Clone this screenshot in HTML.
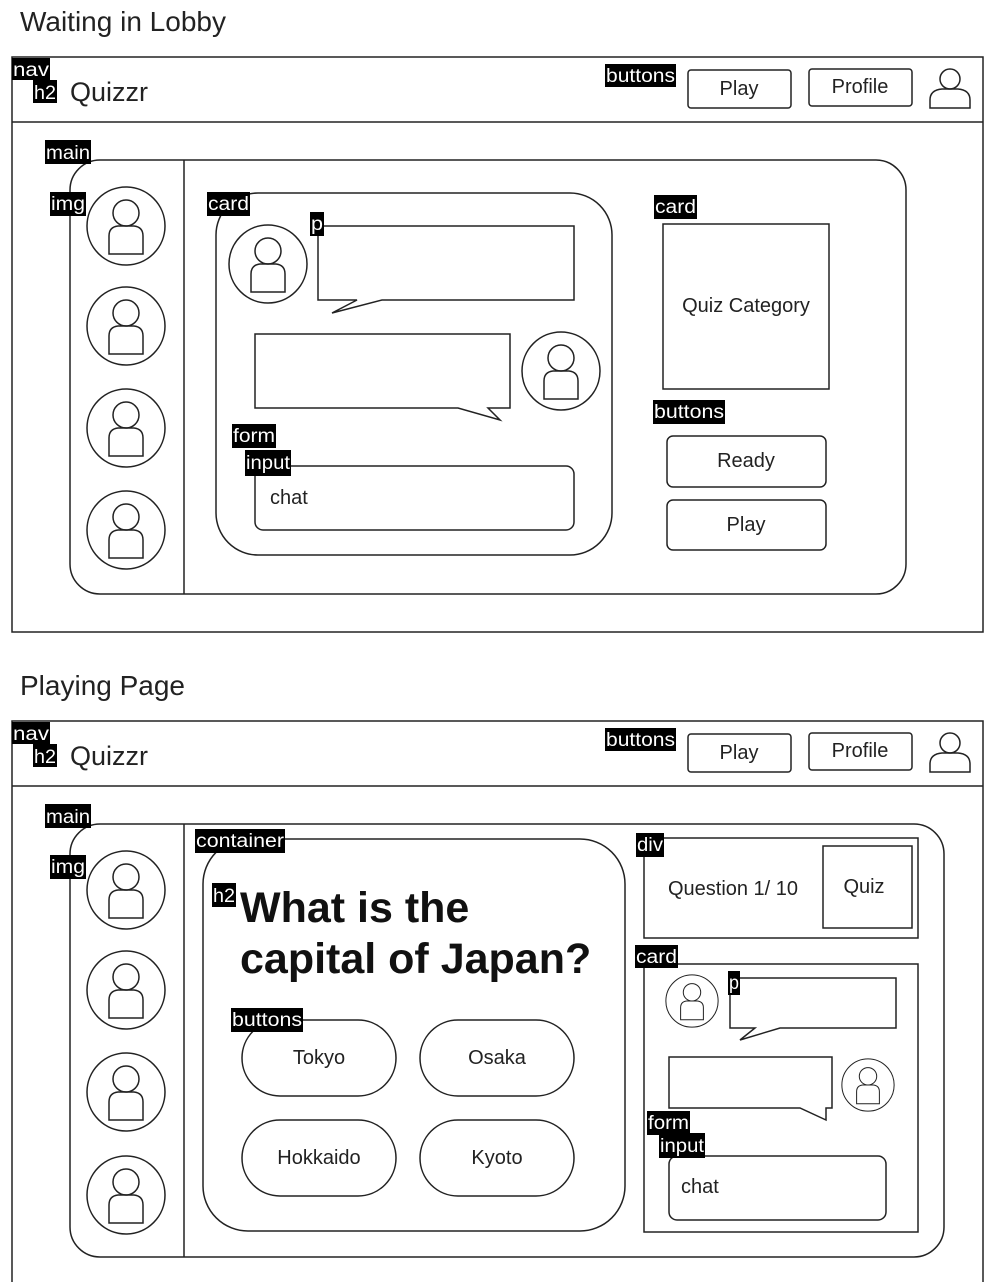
<!DOCTYPE html>
<html><head><meta charset="utf-8"><style>
html,body{margin:0;padding:0;background:#fff;}
svg{display:block;}
text{font-family:"Liberation Sans",sans-serif;}
.lb{font-size:19px;fill:#fff;}
</style></head><body>
<svg width="998" height="1282" viewBox="0 0 998 1282" xmlns="http://www.w3.org/2000/svg">
<defs>
<g id="av">
<circle cx="0" cy="0" r="39" fill="#fff" stroke="#222" stroke-width="1.5"/>
<circle cx="0" cy="-13" r="13" fill="none" stroke="#222" stroke-width="1.5"/>
<path d="M-17 28 L-17 10 Q-17 1 -8 0 L8 0 Q17 1 17 10 L17 28 Z" fill="none" stroke="#222" stroke-width="1.5"/>
</g>
<g id="usr">
<circle cx="0" cy="-9" r="10" fill="none" stroke="#222" stroke-width="1.5"/>
<path d="M-20 20 L-20 12 Q-20 2 -8 1 L8 1 Q20 2 20 12 L20 20 Z" fill="none" stroke="#222" stroke-width="1.5"/>
</g>
</defs>
<g fill="none" stroke="#222" stroke-width="1.5">
<rect x="12" y="57" width="971" height="575"/>
<line x1="12" y1="122" x2="983" y2="122"/>
<rect x="688" y="70" width="103" height="38" rx="3"/>
<rect x="809" y="69" width="103" height="37" rx="3"/>
<rect x="70" y="160" width="836" height="434" rx="30"/>
<line x1="184" y1="160" x2="184" y2="594"/>
<rect x="216" y="193" width="396" height="362" rx="42"/>
<path d="M318,226 H574 V300 H382 L332,313 L357,300 H318 Z"/>
<path d="M255,334 H510 V408 H488 L500,420 L458,408 H255 Z"/>
<rect x="255" y="466" width="319" height="64" rx="8"/>
<rect x="663" y="224" width="166" height="165"/>
<rect x="667" y="436" width="159" height="51" rx="6"/>
<rect x="667" y="500" width="159" height="50" rx="6"/>
<rect x="12" y="721" width="971" height="575"/>
<line x1="12" y1="786" x2="983" y2="786"/>
<rect x="688" y="734" width="103" height="38" rx="3"/>
<rect x="809" y="733" width="103" height="37" rx="3"/>
<rect x="70" y="824" width="874" height="433" rx="30"/>
<line x1="184" y1="824" x2="184" y2="1257"/>
<rect x="203" y="839" width="422" height="392" rx="45"/>
<rect x="242" y="1020" width="154" height="76" rx="38"/>
<rect x="420" y="1020" width="154" height="76" rx="38"/>
<rect x="242" y="1120" width="154" height="76" rx="38"/>
<rect x="420" y="1120" width="154" height="76" rx="38"/>
<rect x="644" y="838" width="274" height="100"/>
<rect x="823" y="846" width="89" height="82"/>
<rect x="644" y="964" width="274" height="268"/>
<path d="M730,978 H896 V1028 H780 L740,1040 L755,1028 H730 Z"/>
<path d="M669,1057 H832 V1108 H826 L826,1120 L800,1108 H669 Z"/>
<rect x="669" y="1156" width="217" height="64" rx="8"/>
</g>
<use href="#av" x="126" y="226"/><use href="#av" x="126" y="326"/><use href="#av" x="126" y="428"/><use href="#av" x="126" y="530"/>
<use href="#av" x="268" y="264"/>
<use href="#av" x="561" y="371"/>
<use href="#av" x="126" y="890"/><use href="#av" x="126" y="990"/><use href="#av" x="126" y="1092"/><use href="#av" x="126" y="1195"/>
<g transform="translate(692,1001) scale(0.67)"><use href="#av"/></g>
<g transform="translate(868,1085) scale(0.67)"><use href="#av"/></g>
<use href="#usr" x="950" y="88"/>
<use href="#usr" x="950" y="752"/>
<text x="20" y="31" font-size="28" fill="#222">Waiting in Lobby</text>
<text x="20" y="695" font-size="28" fill="#222">Playing Page</text>
<text x="70" y="101" font-size="27" fill="#222">Quizzr</text>
<text x="70" y="765" font-size="27" fill="#222">Quizzr</text>
<g font-size="20" fill="#222" text-anchor="middle">
<text x="739" y="95">Play</text><text x="860" y="93">Profile</text>
<text x="739" y="759">Play</text><text x="860" y="757">Profile</text>
<text x="746" y="312">Quiz Category</text>
<text x="746" y="467">Ready</text>
<text x="746" y="531">Play</text>
<text x="319" y="1064">Tokyo</text><text x="497" y="1064">Osaka</text>
<text x="319" y="1164">Hokkaido</text><text x="497" y="1164">Kyoto</text>
<text x="733" y="895">Question 1/ 10</text>
<text x="864" y="893">Quiz</text>
</g>
<text x="270" y="504" font-size="20" fill="#222">chat</text>
<text x="681" y="1193" font-size="20" fill="#222">chat</text>
<text x="240" y="922" font-size="43" font-weight="bold" fill="#111">What is the</text>
<text x="240" y="973" font-size="43" font-weight="bold" fill="#111">capital of Japan?</text>
<g>
<rect x="12" y="58" width="38" height="22" fill="#000"/><text class="lb" x="13" y="76" textLength="36" lengthAdjust="spacingAndGlyphs">nav</text>
<rect x="33" y="80" width="24" height="23" fill="#000"/><text class="lb" x="34" y="99" textLength="22" lengthAdjust="spacingAndGlyphs">h2</text>
<rect x="605" y="64" width="71" height="23" fill="#000"/><text class="lb" x="606" y="82" textLength="69" lengthAdjust="spacingAndGlyphs">buttons</text>
<rect x="45" y="140" width="46" height="24" fill="#000"/><text class="lb" x="46" y="159" textLength="44" lengthAdjust="spacingAndGlyphs">main</text>
<rect x="50" y="192" width="36" height="24" fill="#000"/><text class="lb" x="51" y="210" textLength="34" lengthAdjust="spacingAndGlyphs">img</text>
<rect x="207" y="192" width="43" height="24" fill="#000"/><text class="lb" x="208" y="210" textLength="41" lengthAdjust="spacingAndGlyphs">card</text>
<rect x="310" y="212" width="14" height="24" fill="#000"/><text class="lb" x="311" y="230" textLength="12" lengthAdjust="spacingAndGlyphs">p</text>
<rect x="232" y="424" width="44" height="24" fill="#000"/><text class="lb" x="233" y="442" textLength="42" lengthAdjust="spacingAndGlyphs">form</text>
<rect x="245" y="450" width="46" height="26" fill="#000"/><text class="lb" x="246" y="469" textLength="44" lengthAdjust="spacingAndGlyphs">input</text>
<rect x="654" y="195" width="43" height="24" fill="#000"/><text class="lb" x="655" y="213" textLength="41" lengthAdjust="spacingAndGlyphs">card</text>
<rect x="653" y="400" width="72" height="24" fill="#000"/><text class="lb" x="654" y="418" textLength="70" lengthAdjust="spacingAndGlyphs">buttons</text>
<rect x="12" y="722" width="38" height="22" fill="#000"/><text class="lb" x="13" y="740" textLength="36" lengthAdjust="spacingAndGlyphs">nav</text>
<rect x="33" y="744" width="24" height="23" fill="#000"/><text class="lb" x="34" y="763" textLength="22" lengthAdjust="spacingAndGlyphs">h2</text>
<rect x="605" y="728" width="71" height="23" fill="#000"/><text class="lb" x="606" y="746" textLength="69" lengthAdjust="spacingAndGlyphs">buttons</text>
<rect x="45" y="804" width="46" height="24" fill="#000"/><text class="lb" x="46" y="823" textLength="44" lengthAdjust="spacingAndGlyphs">main</text>
<rect x="50" y="855" width="36" height="24" fill="#000"/><text class="lb" x="51" y="873" textLength="34" lengthAdjust="spacingAndGlyphs">img</text>
<rect x="195" y="829" width="90" height="24" fill="#000"/><text class="lb" x="196" y="847" textLength="88" lengthAdjust="spacingAndGlyphs">container</text>
<rect x="212" y="883" width="24" height="24" fill="#000"/><text class="lb" x="213" y="902" textLength="22" lengthAdjust="spacingAndGlyphs">h2</text>
<rect x="231" y="1008" width="72" height="24" fill="#000"/><text class="lb" x="232" y="1026" textLength="70" lengthAdjust="spacingAndGlyphs">buttons</text>
<rect x="636" y="833" width="28" height="24" fill="#000"/><text class="lb" x="637" y="851" textLength="26" lengthAdjust="spacingAndGlyphs">div</text>
<rect x="635" y="945" width="43" height="23" fill="#000"/><text class="lb" x="636" y="963" textLength="41" lengthAdjust="spacingAndGlyphs">card</text>
<rect x="728" y="971" width="12" height="24" fill="#000"/><text class="lb" x="729" y="989" textLength="10" lengthAdjust="spacingAndGlyphs">p</text>
<rect x="647" y="1111" width="43" height="24" fill="#000"/><text class="lb" x="648" y="1129" textLength="41" lengthAdjust="spacingAndGlyphs">form</text>
<rect x="659" y="1133" width="46" height="25" fill="#000"/><text class="lb" x="660" y="1152" textLength="44" lengthAdjust="spacingAndGlyphs">input</text>
</g>
</svg>
</body></html>
